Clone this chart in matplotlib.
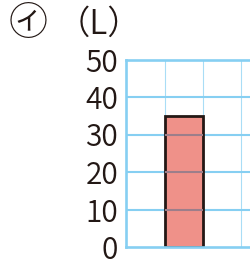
import matplotlib.pyplot as plt

plt.rcParams['font.family'] = ['Noto Sans CJK JP', 'DejaVu Sans']

# --- data ---
categories = ['㋑']
values = [35]
y_ticks = [0, 10, 20, 30, 40, 50]
unit_label = '（L）'
mark_label = '㋑'

bar_pos = [1.5]          # bar sits in the second grid column
col_lines = [1, 2, 3, 4]

grid_blue = '#86CFF2'
grid_light = '#A9DDF6'
bar_fill = '#EF9189'
bar_edge = '#231815'

W, H = 251, 262
fig = plt.figure(figsize=(W / 100, H / 100), dpi=100)

# axes runs off the right edge of the picture
left_px, right_px, top_px, bottom_px = 126.5, 300.0, 59.5, 247.0
col_px = 38.0
ax = fig.add_axes([left_px / W, (H - bottom_px) / H,
                   (right_px - left_px) / W, (bottom_px - top_px) / H])
ax.set_xlim(0, (right_px - left_px) / col_px)
ax.set_ylim(0, 50)

# grid
for x in col_lines:
    ax.axvline(x, color=grid_light, lw=0.8, zorder=1)
for y in y_ticks[1:-1]:
    ax.axhline(y, color=grid_blue, lw=1.5, zorder=1)

# bar
ax.bar(bar_pos, values, width=1.0, color=bar_fill, edgecolor=bar_edge,
       linewidth=2.0, zorder=2)
# grid lines seen through the bar
for b, v in zip(bar_pos, values):
    for y in y_ticks[1:-1]:
        if y < v:
            ax.hlines(y, b - 0.5, b + 0.5, color='#9C7E8A', lw=1.5, zorder=3)

for s in ['left', 'top', 'bottom']:
    ax.spines[s].set_color(grid_blue)
    ax.spines[s].set_linewidth(1.9)
ax.spines['right'].set_visible(False)

ax.set_xticks([])
ax.set_yticks(y_ticks)
ax.set_yticklabels([str(t) for t in y_ticks])
ax.tick_params(axis='y', length=0, pad=6, labelsize=21.5, labelcolor='#231815')
for lab in ax.get_yticklabels():
    lab.set_fontweight(350)

fig.text(28 / W, 1 - 23.5 / H, mark_label, fontsize=28, ha='center', va='center',
         color='#231815', fontweight=350)
fig.text(99 / W, 1 - 24 / H, unit_label, fontsize=24, ha='center', va='center',
         color='#231815', fontweight=350)

fig.savefig('out.png', dpi=100)
